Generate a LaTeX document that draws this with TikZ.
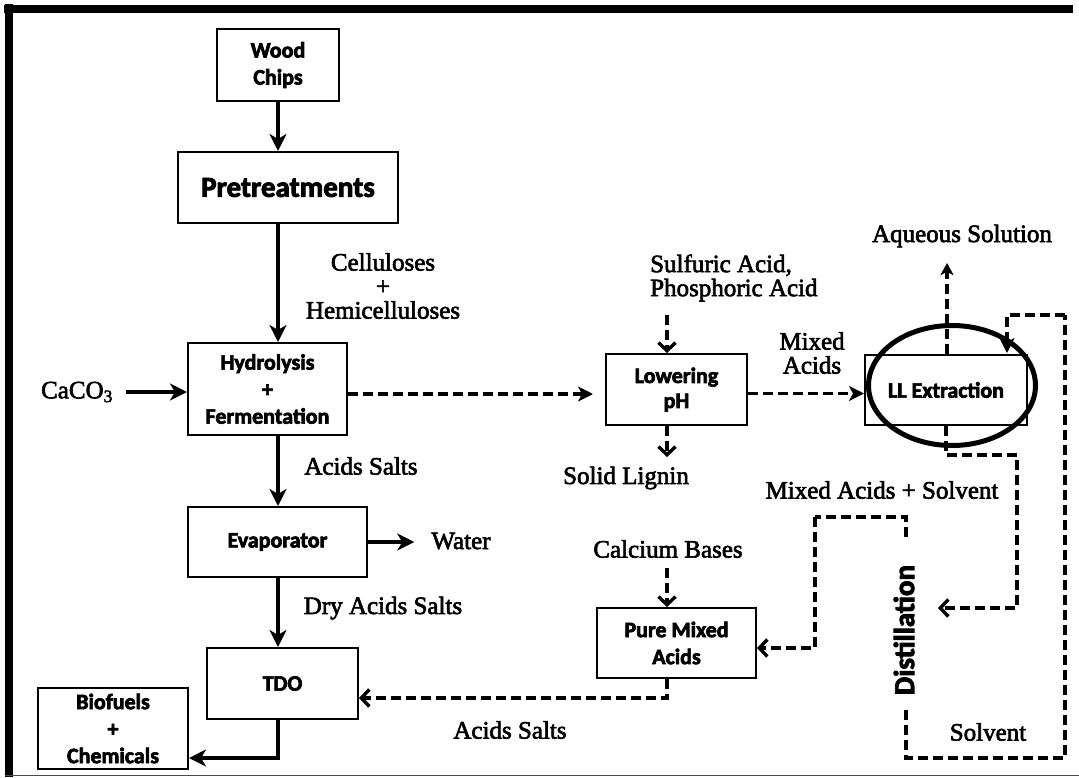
\documentclass[tikz,border=0pt]{standalone}
\usepackage{fontspec}
\setmainfont{Liberation Serif}
\newfontfamily\labelfont{Liberation Serif}[FakeBold=2.5]
\newfontfamily\boxfont{Carlito}[BoldFeatures={FakeBold=3}]
\usetikzlibrary{arrows.meta,shapes.geometric}
\begin{document}
\begin{tikzpicture}[x=1pt,y=-1pt,
  proc/.style={draw, line width=2pt, inner sep=0pt, align=center,
    font=\boxfont\bfseries\fontsize{22}{27}\selectfont},
  lbl/.style={inner sep=0pt, align=center, font=\labelfont\fontsize{25}{24}\selectfont},
  flow/.style={line width=3.6pt, -{Stealth[length=17pt,width=17pt,inset=5pt]}},
  dflow/.style={line width=3.4pt, dash pattern=on 10pt off 5pt,
    -{Stealth[length=15pt,width=15pt,inset=4pt]}},
  dbarb/.style={line width=3.4pt, dash pattern=on 10pt off 5pt,
    -{Straight Barb[length=8pt,width=17pt]}},
  dline/.style={line width=3.4pt, dash pattern=on 10pt off 5pt},
]
\useasboundingbox (0,0) rectangle (1079,777);

% frame
\draw[line width=8pt] (4,9) -- (1073,9);
\draw[line width=8pt] (9,4) -- (9,777);
\draw[line width=1.6pt, black!70] (5,775.5) -- (1079,775.5);

% process boxes
\node[proc, minimum width=122pt, minimum height=72pt] (wood) at (278,65) {Wood\\Chips};
\node[proc, minimum width=220pt, minimum height=71pt,
      font=\boxfont\bfseries\fontsize{29}{32}\selectfont] (pre) at (288,187.5) {Pretreatments};
\node[proc, minimum width=159pt, minimum height=92pt] (hyd) at (267.5,389) {Hydrolysis\\+\\Fermentation};
\node[proc, minimum width=179pt, minimum height=70pt] (evap) at (277.5,542) {Evaporator};
\node[proc, minimum width=151pt, minimum height=71pt] (tdo) at (282.5,683.5) {TDO};
\node[proc, minimum width=150pt, minimum height=81pt] (bio) at (113,728.5) {Biofuels\\+\\Chemicals};
\node[proc, minimum width=141pt, minimum height=71pt,
      font=\boxfont\bfseries\fontsize{22}{25}\selectfont] (low) at (676.5,389.5) {Lowering\\pH};
\node[proc, minimum width=159pt, minimum height=70pt] (pma) at (676.5,643) {Pure Mixed\\Acids};
\node[proc, minimum width=162pt, minimum height=70pt] (ll) at (946,390) {LL Extraction};
\node[draw, ellipse, line width=5pt, inner sep=0pt, minimum width=167pt,
      minimum height=120pt] (ring) at (952,385.5) {};
\node[inner sep=0pt, rotate=90, font=\boxfont\bfseries\fontsize{29}{30}\selectfont]
      (dist) at (904,630) {Distillation};

% stream labels
\node[lbl] (cell) at (383,286) {Celluloses\\+\\Hemicelluloses};
\node[lbl] (caco) at (77,392) {CaCO\textsubscript{3}};
\node[lbl] (salts1) at (361,466) {Acids Salts};
\node[lbl] (water) at (461,541) {Water};
\node[lbl] (dry) at (383,608) {Dry Acids Salts};
\node[lbl, align=left, anchor=west] (acid) at (650,278) {Sulfuric Acid,\\Phosphoric Acid};
\node[lbl] (mixed) at (812,353) {Mixed\\Acids};
\node[lbl] (lignin) at (626,478) {Solid Lignin};
\node[lbl] (calc) at (668,549) {Calcium Bases};
\node[lbl] (salts2) at (510,730) {Acids Salts};
\node[lbl] (aq) at (962,236) {Aqueous Solution};
\node[lbl] (mas) at (882,490) {Mixed Acids + Solvent};
\node[lbl] (solv) at (988,732) {Solvent};

% route points
\coordinate (acidTail) at (667,315);
\coordinate (ligTip) at (667,457);
\coordinate (calTail) at (667,568);
\coordinate (aqTip) at (947,263);
\coordinate (mB1) at (1017,455);
\coordinate (distIn) at (938,608);
\coordinate (dTop) at (906,537);
\coordinate (dT) at (906,517);
\coordinate (dL) at (815,517);
\coordinate (dBot) at (906,710);
\coordinate (sBR) at (1065,758);
\coordinate (sTR) at (1065,315);
\coordinate (sTip) at (1007,353);

% main solid line
\draw[flow] (wood.south) -- (wood.south |- pre.north);
\draw[flow] (pre.south -| wood.south) -- (hyd.north -| wood.south);
\draw[flow] (hyd.south -| wood.south) -- (evap.north -| wood.south);
\draw[flow] (evap.south -| wood.south) -- (tdo.north -| wood.south);
\draw[flow] (tdo.south -| wood.south) |- ([yshift=-29.5pt]bio.east);
\draw[flow] (caco.east) ++(13,0) -- (caco.east -| hyd.west);
\draw[flow] (evap.east) -- ([xshift=-17pt]water.west |- evap.east);

% acid recovery (dashed)
\draw[dflow, shorten >=12pt] ([yshift=-5pt]hyd.east) -- ([yshift=-5pt]hyd.east -| low.west);
\draw[dflow] ([yshift=-4pt]low.east) -- ([yshift=-4pt]low.east -| ll.west);
\draw[dbarb] (acidTail) -- (acidTail |- low.north);
\draw[dbarb] (low.south -| ligTip) -- (ligTip);
\draw[dbarb] (calTail) -- (calTail |- pma.north);
\draw[dbarb] (pma.south -| calTail) |- ([yshift=-14.5pt]tdo.east);
\draw[dflow, -{Stealth[length=12pt,width=13pt,inset=3pt]}] (ll.north -| aqTip) -- (aqTip);
\draw[dbarb] (ll.south) |- (mB1) |- (distIn);
\draw[dline] (dTop) -- (dT) -- (dL);
\draw[dbarb] (dL) |- ([yshift=-5pt]pma.east);
\draw[dline] (dBot) |- (sBR) -- (sTR);
\draw[dflow] (sTR) -| (sTip);
\end{tikzpicture}
\end{document}
